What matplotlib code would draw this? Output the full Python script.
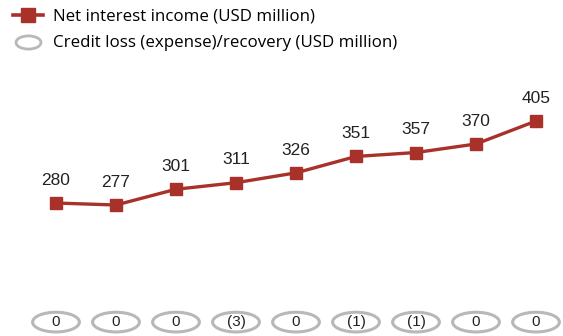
import matplotlib
matplotlib.use("Agg")

import matplotlib.pyplot as plt
from matplotlib.lines import Line2D
from matplotlib.patches import Ellipse
from matplotlib.path import Path
from matplotlib.transforms import Affine2D

# data
net_interest = [280, 277, 301, 311, 326, 351, 357, 370, 405]
credit_loss = ["0", "0", "0", "(3)", "0", "(1)", "(1)", "0", "0"]

RED = "#a8322a"
GREY = "#b8b8b8"

fig = plt.figure(figsize=(5.63, 3.36), dpi=100)
ax = fig.add_axes([0, 0, 1, 1])
ax.axis("off")

x = list(range(len(net_interest)))
ax.set_xlim(-0.933, 8.45)
ax.set_ylim(77.3, 589.5)

ax.plot(
    x,
    net_interest,
    color=RED,
    lw=2.4,
    marker="s",
    markersize=8.3,
    markerfacecolor=RED,
    markeredgecolor=RED,
)

for xi, v in zip(x, net_interest):
    ax.annotate(
        str(v),
        (xi, v),
        xytext=(0, 11),
        textcoords="offset points",
        ha="center",
        va="bottom",
        fontsize=12.5,
        family="Liberation Sans",
        color="#222222",
    )

row_y = 98.5
for xi, lab in zip(x, credit_loss):
    ax.add_patch(
        Ellipse(
            (xi, row_y),
            width=0.78,
            height=30,
            facecolor="white",
            edgecolor=GREY,
            lw=2.2,
        )
    )
    ax.text(
        xi,
        row_y,
        lab,
        ha="center",
        va="center",
        fontsize=11,
        family="Liberation Sans",
        color="#222222",
    )

oval = Path.unit_circle().transformed(Affine2D().scale(1.9, 1.0))
handles = [
    Line2D([], [], color=RED, lw=2.6, marker="s", markersize=10),
    Line2D([], [], ls="none", marker=oval, markersize=18,
           markerfacecolor="white", markeredgecolor=GREY, markeredgewidth=2),
]
labels = [
    "Net interest income (USD million)",
    "Credit loss (expense)/recovery (USD million)",
]
ax.legend(
    handles,
    labels,
    loc="upper left",
    bbox_to_anchor=(0.0144, 0.99),
    frameon=False,
    borderaxespad=0,
    borderpad=0.3,
    handlelength=1.75,
    handletextpad=0.58,
    labelspacing=0.65,
    prop={"family": "Open Sans", "size": 12.2},
)

fig.savefig("out.png", dpi=100, facecolor="white")
